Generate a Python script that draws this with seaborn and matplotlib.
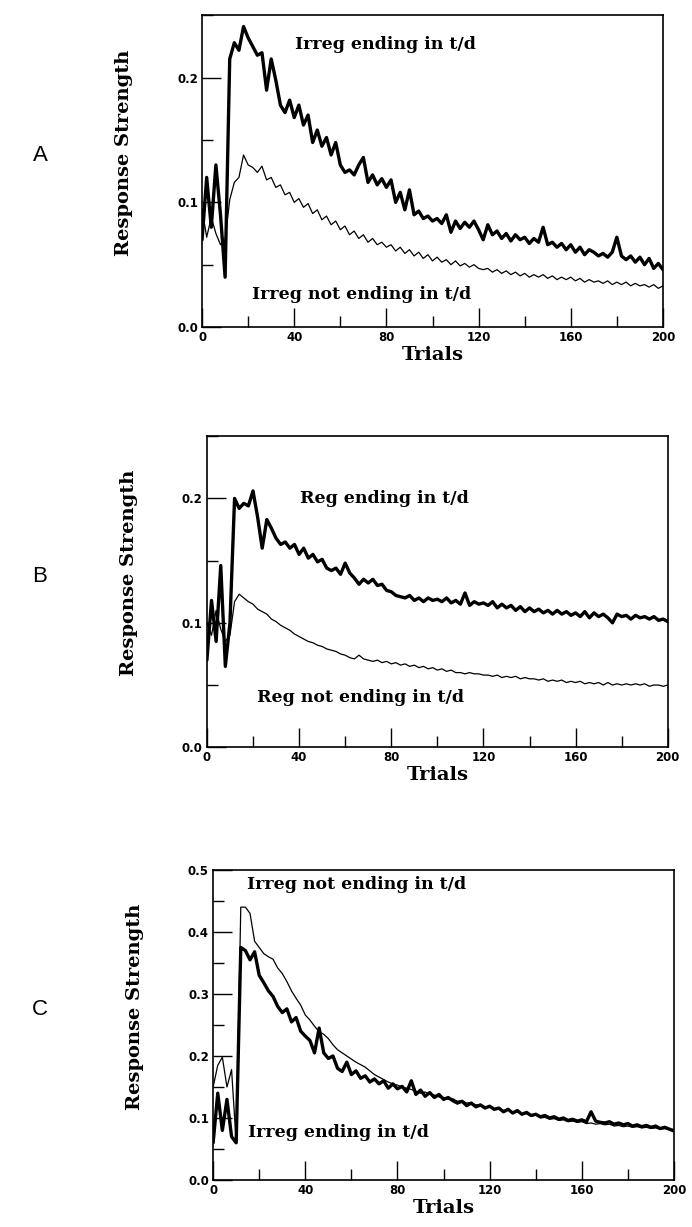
import pandas as pd
import seaborn as sns
import matplotlib.pyplot as plt
from matplotlib.ticker import MultipleLocator

trials = list(range(0, 201, 2))

# panel A: irregular verbs
a_ending = [0.07, 0.12, 0.08, 0.13, 0.09, 0.04, 0.215, 0.228, 0.222, 0.241,
            0.232, 0.225, 0.218, 0.22, 0.19, 0.215, 0.198, 0.178, 0.172, 0.182,
            0.168, 0.178, 0.162, 0.17, 0.148, 0.158, 0.145, 0.152, 0.138, 0.148,
            0.13, 0.124, 0.126, 0.122, 0.13, 0.136, 0.116, 0.122, 0.114, 0.119,
            0.112, 0.118, 0.1, 0.108, 0.094, 0.11, 0.09, 0.093, 0.087, 0.089,
            0.085, 0.087, 0.083, 0.09, 0.076, 0.085, 0.079, 0.084, 0.08, 0.085,
            0.078, 0.07, 0.082, 0.074, 0.077, 0.071, 0.075, 0.069, 0.074, 0.07,
            0.072, 0.067, 0.071, 0.068, 0.08, 0.066, 0.068, 0.064, 0.067, 0.062,
            0.066, 0.06, 0.064, 0.058, 0.062, 0.06, 0.057, 0.059, 0.056, 0.06,
            0.072, 0.057, 0.054, 0.057, 0.052, 0.056, 0.05, 0.055, 0.047, 0.051,
            0.046]
a_not_ending = [0.095, 0.072, 0.088, 0.075, 0.066, 0.07, 0.102, 0.116, 0.12, 0.138,
                0.13, 0.128, 0.124, 0.129, 0.118, 0.12, 0.112, 0.114, 0.106, 0.108,
                0.1, 0.103, 0.096, 0.099, 0.091, 0.094, 0.086, 0.089, 0.082, 0.085,
                0.078, 0.081, 0.074, 0.077, 0.071, 0.074, 0.068, 0.071, 0.066, 0.068,
                0.064, 0.066, 0.061, 0.064, 0.059, 0.062, 0.057, 0.06, 0.055, 0.058,
                0.053, 0.056, 0.052, 0.054, 0.05, 0.053, 0.049, 0.051, 0.048, 0.05,
                0.047, 0.046, 0.047, 0.044, 0.046, 0.043, 0.045, 0.042, 0.044, 0.041,
                0.043, 0.04, 0.042, 0.04, 0.042, 0.039, 0.041, 0.038, 0.04, 0.038,
                0.04, 0.037, 0.039, 0.036, 0.038, 0.036, 0.037, 0.035, 0.037, 0.034,
                0.036, 0.034, 0.036, 0.033, 0.035, 0.033, 0.034, 0.032, 0.034, 0.031,
                0.033]

# panel B: regular verbs
b_ending = [0.07, 0.118, 0.085, 0.146, 0.065, 0.1, 0.2, 0.192, 0.196, 0.194,
            0.206, 0.185, 0.16, 0.183, 0.176, 0.168, 0.163, 0.165, 0.16, 0.163,
            0.155, 0.16, 0.152, 0.155, 0.149, 0.151, 0.144, 0.142, 0.144, 0.139,
            0.148, 0.14, 0.136, 0.131, 0.135, 0.132, 0.135, 0.13, 0.131, 0.126,
            0.125, 0.122, 0.121, 0.12, 0.122, 0.118, 0.12, 0.117, 0.12, 0.118,
            0.119, 0.117, 0.12, 0.116, 0.118, 0.115, 0.124, 0.114, 0.117, 0.115,
            0.116, 0.114, 0.117, 0.112, 0.115, 0.112, 0.114, 0.11, 0.113, 0.109,
            0.112, 0.109, 0.111, 0.108, 0.11, 0.107, 0.11, 0.107, 0.109, 0.106,
            0.108, 0.105, 0.109, 0.104, 0.108, 0.105, 0.107, 0.104, 0.1, 0.107,
            0.105, 0.106, 0.103, 0.106, 0.104, 0.105, 0.103, 0.105, 0.102, 0.103,
            0.101]
b_not_ending = [0.1, 0.09, 0.11, 0.095, 0.085, 0.09, 0.117, 0.123, 0.12, 0.117,
                0.115, 0.111, 0.109, 0.107, 0.103, 0.101, 0.098, 0.096, 0.094, 0.091,
                0.089, 0.087, 0.085, 0.084, 0.082, 0.081, 0.079, 0.078, 0.077, 0.075,
                0.074, 0.072, 0.071, 0.074, 0.071, 0.07, 0.069, 0.07, 0.068, 0.069,
                0.067, 0.068, 0.066, 0.067, 0.065, 0.066, 0.064, 0.065, 0.063, 0.064,
                0.062, 0.063, 0.061, 0.062, 0.06, 0.06, 0.059, 0.06, 0.059, 0.059,
                0.058, 0.058, 0.057, 0.058, 0.056, 0.057, 0.056, 0.057, 0.055, 0.056,
                0.055, 0.055, 0.054, 0.055, 0.053, 0.054, 0.053, 0.054, 0.052, 0.053,
                0.052, 0.053, 0.051, 0.052, 0.051, 0.052, 0.05, 0.052, 0.05, 0.051,
                0.05, 0.051, 0.05, 0.051, 0.05, 0.051, 0.049, 0.05, 0.05, 0.049,
                0.05]

# panel C: irregular verbs, second simulation
c_ending = [0.06, 0.14, 0.08, 0.13, 0.07, 0.06, 0.375, 0.37, 0.355, 0.368,
            0.33, 0.318, 0.305, 0.296, 0.28, 0.27, 0.276, 0.255, 0.262, 0.24,
            0.232, 0.225, 0.205, 0.245, 0.205, 0.196, 0.2, 0.18, 0.175, 0.19,
            0.17, 0.176, 0.164, 0.168, 0.158, 0.163, 0.155, 0.16, 0.148, 0.155,
            0.147, 0.151, 0.142, 0.16, 0.138, 0.145, 0.135, 0.141, 0.133, 0.138,
            0.13, 0.133, 0.128, 0.124, 0.127, 0.12, 0.124, 0.118, 0.121, 0.116,
            0.119, 0.114, 0.116, 0.11, 0.114, 0.108, 0.112, 0.106, 0.109, 0.104,
            0.106, 0.102, 0.104, 0.1, 0.102, 0.098, 0.1, 0.096, 0.098, 0.095,
            0.097, 0.094, 0.11, 0.095, 0.093, 0.092, 0.094, 0.09, 0.092, 0.089,
            0.091, 0.087, 0.089, 0.086, 0.088, 0.085, 0.087, 0.083, 0.085, 0.082,
            0.079]
c_not_ending = [0.15, 0.185, 0.198, 0.15, 0.178, 0.06, 0.44, 0.44, 0.43, 0.385,
                0.375, 0.365, 0.36, 0.356, 0.342, 0.333, 0.32, 0.305, 0.293, 0.282,
                0.266, 0.258, 0.248, 0.239, 0.235, 0.228, 0.218, 0.21, 0.205, 0.2,
                0.195, 0.19, 0.186, 0.182, 0.176, 0.17, 0.166, 0.162, 0.158, 0.155,
                0.153, 0.15, 0.148, 0.146, 0.143, 0.14, 0.142, 0.138, 0.137, 0.134,
                0.133, 0.13, 0.131, 0.127, 0.128, 0.124, 0.125, 0.121, 0.122, 0.118,
                0.119, 0.115, 0.116, 0.112, 0.113, 0.109, 0.11, 0.106, 0.107, 0.103,
                0.105, 0.1, 0.101, 0.098, 0.099, 0.096, 0.097, 0.094, 0.095, 0.093,
                0.094, 0.091, 0.092, 0.09, 0.091, 0.089, 0.09, 0.087, 0.088, 0.086,
                0.087, 0.085, 0.086, 0.084, 0.085, 0.083, 0.084, 0.082, 0.083, 0.081,
                0.082]

sns.set_style("ticks")
plt.rcParams['font.family'] = ['DejaVu Serif']
plt.rcParams['text.color'] = 'black'
plt.rcParams['axes.labelcolor'] = 'black'
plt.rcParams['xtick.color'] = 'black'
plt.rcParams['ytick.color'] = 'black'

fig = plt.figure(figsize=(6.92, 12.27), dpi=100)

panels = [
    # letter, axes rect, thick, thin, ymax, ystep, (thick label), (thin label)
    ("A", [0.292, 0.7335, 0.666, 0.254], a_ending, a_not_ending, 0.25, 0.1,
     (40.3, 0.2265, "Irreg ending in t/d"), (21.7, 0.026, "Irreg not ending in t/d")),
    ("B", [0.299, 0.391, 0.666, 0.2535], b_ending, b_not_ending, 0.25, 0.1,
     (40.3, 0.2, "Reg ending in t/d"), (21.7, 0.04, "Reg not ending in t/d")),
    ("C", [0.308, 0.0383, 0.666, 0.2527], c_ending, c_not_ending, 0.5, 0.1,
     (15.2, 0.076, "Irreg ending in t/d"), (14.6, 0.476, "Irreg not ending in t/d")),
]

for letter, rect, thick, thin, ymax, ystep, lab1, lab2 in panels:
    ax = fig.add_axes(rect)
    df = pd.DataFrame({"Trials": trials, "thick": thick, "thin": thin})
    sns.lineplot(data=df, x="Trials", y="thin", color="black", linewidth=0.9, ax=ax)
    sns.lineplot(data=df, x="Trials", y="thick", color="black", linewidth=2.4, ax=ax)
    ax.set_xlim(0, 200)
    ax.set_ylim(0, ymax)
    ax.xaxis.set_major_locator(MultipleLocator(40))
    ax.xaxis.set_minor_locator(MultipleLocator(20))
    ax.yaxis.set_minor_locator(MultipleLocator(ystep / 2))
    yt = [round(v * ystep, 2) for v in range(int(ymax / ystep + 1e-6) + 1)]
    ax.set_yticks(yt)
    ax.set_yticklabels(["%.1f" % t for t in yt])
    ax.tick_params(axis="both", which="major", direction="in", length=14, width=1,
                   labelsize=8.5, pad=3)
    ax.tick_params(axis="both", which="minor", direction="in", length=8, width=1)
    for lbl in ax.get_xticklabels() + ax.get_yticklabels():
        lbl.set_family("DejaVu Sans")
        lbl.set_fontweight("bold")
    for sp in ax.spines.values():
        sp.set_visible(True)
        sp.set_linewidth(1.2)
        sp.set_color("black")
    ax.set_xlabel("Trials", fontsize=14, fontweight="bold", labelpad=1)
    ax.set_ylabel("Response Strength", fontsize=14, fontweight="bold")
    ax.yaxis.set_label_coords(-0.15, 0.56)
    for x, y, s in (lab1, lab2):
        ax.text(x, y, s, fontsize=12.5, fontweight="bold", ha="left", va="center")
    # panel letter placed to the left of the axes
    fig.text(40 / 692, rect[1] + rect[3] * 0.55, letter, family="Liberation Sans",
             fontsize=16, ha="center", va="center")

fig.savefig("out.png", dpi=100)
